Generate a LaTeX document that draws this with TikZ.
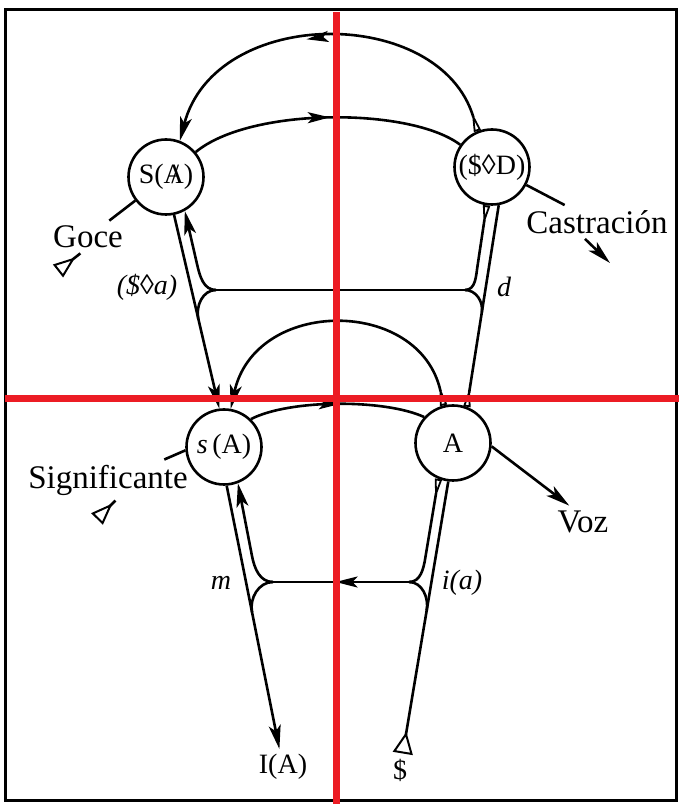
\documentclass[tikz,border=0pt]{standalone}
\usepackage{fontspec}
\setmainfont{Liberation Serif}
\usetikzlibrary{arrows.meta,calc,decorations.markings}

\definecolor{lacanred}{RGB}{236,28,36}
\newcommand{\barA}{\ooalign{A\cr\hidewidth\kern0.1em/\hidewidth}}

\begin{document}
\begin{tikzpicture}[x=0.5pt,y=0.5pt,line width=1.3pt,
 >={Stealth[length=12pt,width=6pt,inset=3pt]},
 wedge/.tip={Triangle[open,reversed,length=10pt,width=3.5pt,line width=0.9pt]},
 delta/.tip={Triangle[open,reversed,length=11pt,width=8pt,line width=1pt]},
 bigdelta/.tip={Triangle[open,reversed,length=11pt,width=10pt,line width=1pt]},
 site/.style={draw,circle,minimum size=37.5pt,inner sep=0pt,font=\fontsize{14}{16}\selectfont},
 lbl/.style={inner sep=2pt,font=\fontsize{16.5}{18}\selectfont},
 sym/.style={inner sep=2pt,font=\fontsize{14}{16}\selectfont\itshape},
 midarr/.style={postaction={decorate},decoration={markings,
   mark=at position #1 with {\arrow{Stealth[length=11pt,width=5.5pt,inset=2.5pt]}}}},
 redline/.style={draw=lacanred,line width=3.5pt}]
\useasboundingbox (0,0) rectangle (679,804);
\draw[line width=1.5pt] (5,3) rectangle (676,794);

% the four sites
\node[site] (SA) at (166,627) {S(\barA)};
\node[site] (SD) at (492,637) {(\$◊D)};
\node[site] (sA) at (224,357) {\textit{s}\,(A)};
\node[site] (A) at (453,361) {A};

% labels
\node[lbl] (goce) at (88,567) {Goce};
\node[lbl] (castr) at (597,582) {Castración};
\node[lbl] (signif) at (108,324) {Significante};
\node[lbl] (voz) at (583,282) {Voz};
\node[sym] (sdiaa) at (147,517) {(\$◊a)};
\node[sym] (dlab) at (504,517) {d};
\node[sym] (mlab) at (221,221) {m};
\node[sym] (ialab) at (462,221) {i(a)};
\node[sym,font=\fontsize{14}{16}\selectfont] (IA) at (283,37) {I(A)};
\node[sym,font=\fontsize{14}{16}\selectfont] (bS) at (400,34) {\$};

\coordinate (jl) at (216,514);
\coordinate (jr) at (465,514);
\coordinate (jl2) at (273,222);
\coordinate (jr2) at (409,222);
\coordinate (gocetip) at (58,533);
\coordinate (signiftip) at (97,285);
\coordinate (castrtip) at (610,541);
\coordinate (ml) at ($(SA.-78)!0.536!(sA.97)$);
\coordinate (mr) at ($(A.69)!0.468!(SD.-80)$);
\coordinate (ml2) at ($(sA.-86)!0.45!(IA)$);
\coordinate (mr2) at ($(bS)!0.553!(A.-97)$);

% upper arcs
\draw[wedge->,midarr=0.55] (SD.112) .. controls (440,799) and (215,799) .. (SA.69);
\draw[midarr=0.51] (SA.40) .. controls (250,697) and (410,697) .. (SD.145);

% upper level
\draw[->] (SA.-78) -- (sA.97);
\draw[wedge-] (A.69) -- (SD.-80);
\draw (jl) -- (jr);
\draw[->] (jl) to[out=180,in=-77] ++(-19,26) -- (SA.-61);
\draw (jl) to[out=180,in=102] (ml);
\draw[wedge-] (SD.-98) -- ++(-9,-60) to[out=-99,in=0] (jr);
\draw (jr) to[out=0,in=81] (mr);

% lower arcs
\draw[wedge->] (A.104) .. controls (420,507) and (255,507) .. (sA.80);
\draw[midarr=0.52] (sA.46) .. controls (290,405) and (385,405) .. (A.138);

% lower level
\draw[->] (sA.-86) -- (IA);
\draw[bigdelta-] (bS) -- (A.-97);
\draw[midarr=0.54] (jr2) -- (jl2);
\draw[->] (jl2) to[out=180,in=-79] ++(-21,26) -- (sA.-69);
\draw (jl2) to[out=180,in=101] (ml2);
\draw[wedge-] (A.-112) -- ++(-13,-78) to[out=-99,in=0] (jr2);
\draw (jr2) to[out=0,in=80] (mr2);

% side vectors
\draw (SA) -- (goce);
\draw[delta-] (gocetip) -- (goce.-115);
\draw (SD) -- (castr);
\draw[->] ([xshift=-6pt]castr.south) -- (castrtip);
\draw (sA.185) -- (signif.20);
\draw[delta-] (signiftip) -- (signif.-70);
\draw[->] (A.-5) -- (voz.130);

% red cross
\draw[redline] (336,792) -- (336,0);
\draw[redline] (5,405) -- (679,405);
\end{tikzpicture}
\end{document}
